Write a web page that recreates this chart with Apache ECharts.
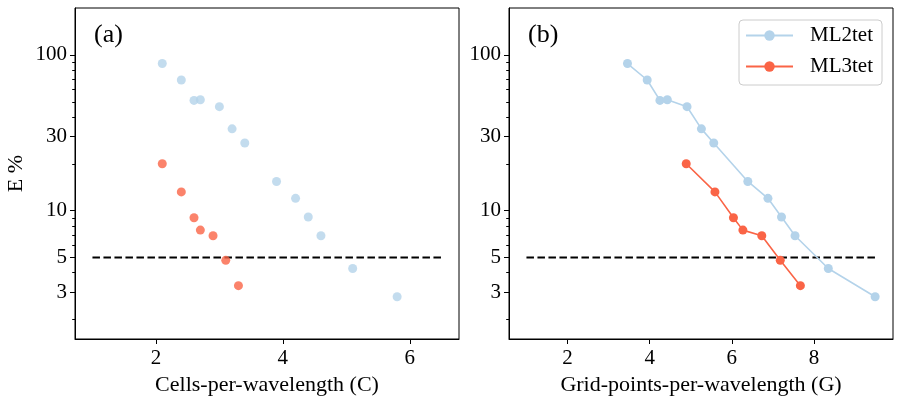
<!DOCTYPE html>
<html>
<head>
<meta charset="utf-8">
<script src="https://cdn.jsdelivr.net/npm/echarts@6/dist/echarts.min.js"></script>
<style>
html,body{margin:0;padding:0;background:#fff;}
#chart{width:903px;height:402px;}
</style>
</head>
<body>
<div id="chart"></div>
<script>
// ---- data ----
const C_ml2 = [2.1, 2.4, 2.6, 2.7, 3.0, 3.2, 3.4, 3.9, 4.2, 4.4, 4.6, 5.1, 5.8];
const G_ml2 = [3.46, 3.94, 4.25, 4.43, 4.91, 5.26, 5.56, 6.39, 6.88, 7.21, 7.54, 8.35, 9.49];
const E_ml2 = [88, 69, 51, 51.5, 46.5, 33.5, 27.2, 15.4, 12, 9.1, 6.9, 4.25, 2.8];
const C_ml3 = [2.1, 2.4, 2.6, 2.7, 2.9, 3.1, 3.3];
const G_ml3 = [4.89, 5.59, 6.04, 6.27, 6.73, 7.18, 7.67];
const E_ml3 = [20, 13.2, 9.0, 7.5, 6.9, 4.8, 3.3];
const thresholdE = 5;
const thresholdC = [1, 6.5];
const thresholdG = [1, 9.5];
const yMajorTicks = [3, 5, 10, 30, 100];
const yMinorTicks = [2, 4, 6, 7, 8, 9, 20, 40, 50, 60, 70, 80, 90];
const xTicksC = [2, 4, 6];
const xTicksG = [2, 4, 6, 8];
const seriesNames = ['ML2tet', 'ML3tet'];
const panelLabels = ['(a)', '(b)'];
const xNames = ['Cells-per-wavelength (C)', 'Grid-points-per-wavelength (G)'];
const yName = 'E %';

const BLUE = '#b4d3ea';
const RED = '#fa6446';
const FONT = 'Liberation Serif';

const zip = (xs, ys) => xs.map((x, i) => [x, ys[i]]);

const chart = echarts.init(document.getElementById('chart'), null, {renderer: 'canvas'});

function xAxis(grid, min, max, ticks, name) {
  return {
    type: 'value', gridIndex: grid, min: min, max: max,
    name: name, nameLocation: 'middle', nameGap: 30,
    nameTextStyle: {fontSize: 22, color: '#000', fontFamily: FONT},
    axisLine: {show: true, onZero: false, lineStyle: {color: '#000', width: 1}},
    axisTick: {show: true, customValues: ticks, length: 5, lineStyle: {color: '#000', width: 1}},
    axisLabel: {show: true, customValues: ticks, margin: 9, fontSize: 21, color: '#000', fontFamily: FONT},
    splitLine: {show: false}
  };
}
function yAxisMajor(grid, withName) {
  return {
    type: 'log', logBase: 10, gridIndex: grid, min: 1.5, max: 200, position: 'left',
    name: withName ? yName : '', nameLocation: 'middle', nameGap: 48, nameRotate: 90,
    nameTextStyle: {fontSize: 22, color: '#000', fontFamily: FONT},
    axisLine: {show: true, lineStyle: {color: '#000', width: 1}},
    axisTick: {show: true, customValues: yMajorTicks, length: 5, lineStyle: {color: '#000', width: 1}},
    axisLabel: {show: true, customValues: yMajorTicks, margin: 8, fontSize: 21, color: '#000', fontFamily: FONT},
    splitLine: {show: false}
  };
}
function yAxisMinor(grid) {
  return {
    type: 'log', logBase: 10, gridIndex: grid, min: 1.5, max: 200, position: 'left',
    axisLine: {show: false},
    axisTick: {show: true, customValues: yMinorTicks, length: 2.8, lineStyle: {color: '#000', width: 1}},
    axisLabel: {show: false},
    splitLine: {show: false}
  };
}

function dashed(xi, yi, range) {
  return {
    type: 'line', xAxisIndex: xi, yAxisIndex: yi, name: 'threshold',
    data: [[range[0], thresholdE], [range[1], thresholdE]],
    showSymbol: false, symbol: 'none', silent: true, z: 1,
    lineStyle: {color: '#000', width: 2, type: [7.5, 3.5]}
  };
}

const option = {
  animation: false,
  backgroundColor: '#fff',
  textStyle: {fontFamily: FONT},
  grid: [
    {left: 75, top: 8, width: 384, height: 331, show: true, borderColor: '#000', borderWidth: 1, backgroundColor: 'transparent'},
    {left: 509, top: 8, width: 384, height: 331, show: true, borderColor: '#000', borderWidth: 1, backgroundColor: 'transparent'}
  ],
  title: [
    {text: panelLabels[0], left: 94, top: 22, padding: 0, textStyle: {fontSize: 26, fontWeight: 'normal', color: '#000', fontFamily: FONT}},
    {text: panelLabels[1], left: 528, top: 22, padding: 0, textStyle: {fontSize: 26, fontWeight: 'normal', color: '#000', fontFamily: FONT}}
  ],
  legend: {
    data: seriesNames,
    orient: 'vertical',
    right: 21, top: 20,
    padding: [5, 9, 8, 6],
    itemGap: 10,
    itemWidth: 47, itemHeight: 13,
    backgroundColor: '#fff',
    borderColor: '#cccccc', borderWidth: 1, borderRadius: 4,
    textStyle: {fontSize: 21, color: '#000', fontFamily: FONT, padding: [0, 0, 0, 12]}
  },
  xAxis: [
    xAxis(0, 0.725, 6.775, xTicksC, xNames[0]),
    xAxis(1, 0.575, 9.925, xTicksG, xNames[1])
  ],
  yAxis: [
    yAxisMajor(0, true),
    yAxisMinor(0),
    yAxisMajor(1, false),
    yAxisMinor(1)
  ],
  series: [
    {type: 'line', name: seriesNames[0], xAxisIndex: 1, yAxisIndex: 2, data: zip(G_ml2, E_ml2),
     symbol: 'circle', symbolSize: 9, showSymbol: true, itemStyle: {color: BLUE},
     lineStyle: {color: BLUE, width: 1.6}, z: 3},
    {type: 'line', name: seriesNames[1], xAxisIndex: 1, yAxisIndex: 2, data: zip(G_ml3, E_ml3),
     symbol: 'circle', symbolSize: 9, showSymbol: true, itemStyle: {color: RED},
     lineStyle: {color: RED, width: 1.6}, z: 3},
    dashed(0, 0, thresholdC),
    dashed(1, 2, thresholdG),
    {type: 'scatter', name: seriesNames[0], xAxisIndex: 0, yAxisIndex: 0, data: zip(C_ml2, E_ml2),
     symbol: 'circle', symbolSize: 9, itemStyle: {color: BLUE}, z: 3},
    {type: 'scatter', name: seriesNames[1], xAxisIndex: 0, yAxisIndex: 0, data: zip(C_ml3, E_ml3),
     symbol: 'circle', symbolSize: 9, itemStyle: {color: RED}, z: 3}
  ]
};
chart.setOption(option);
</script>
</body>
</html>
